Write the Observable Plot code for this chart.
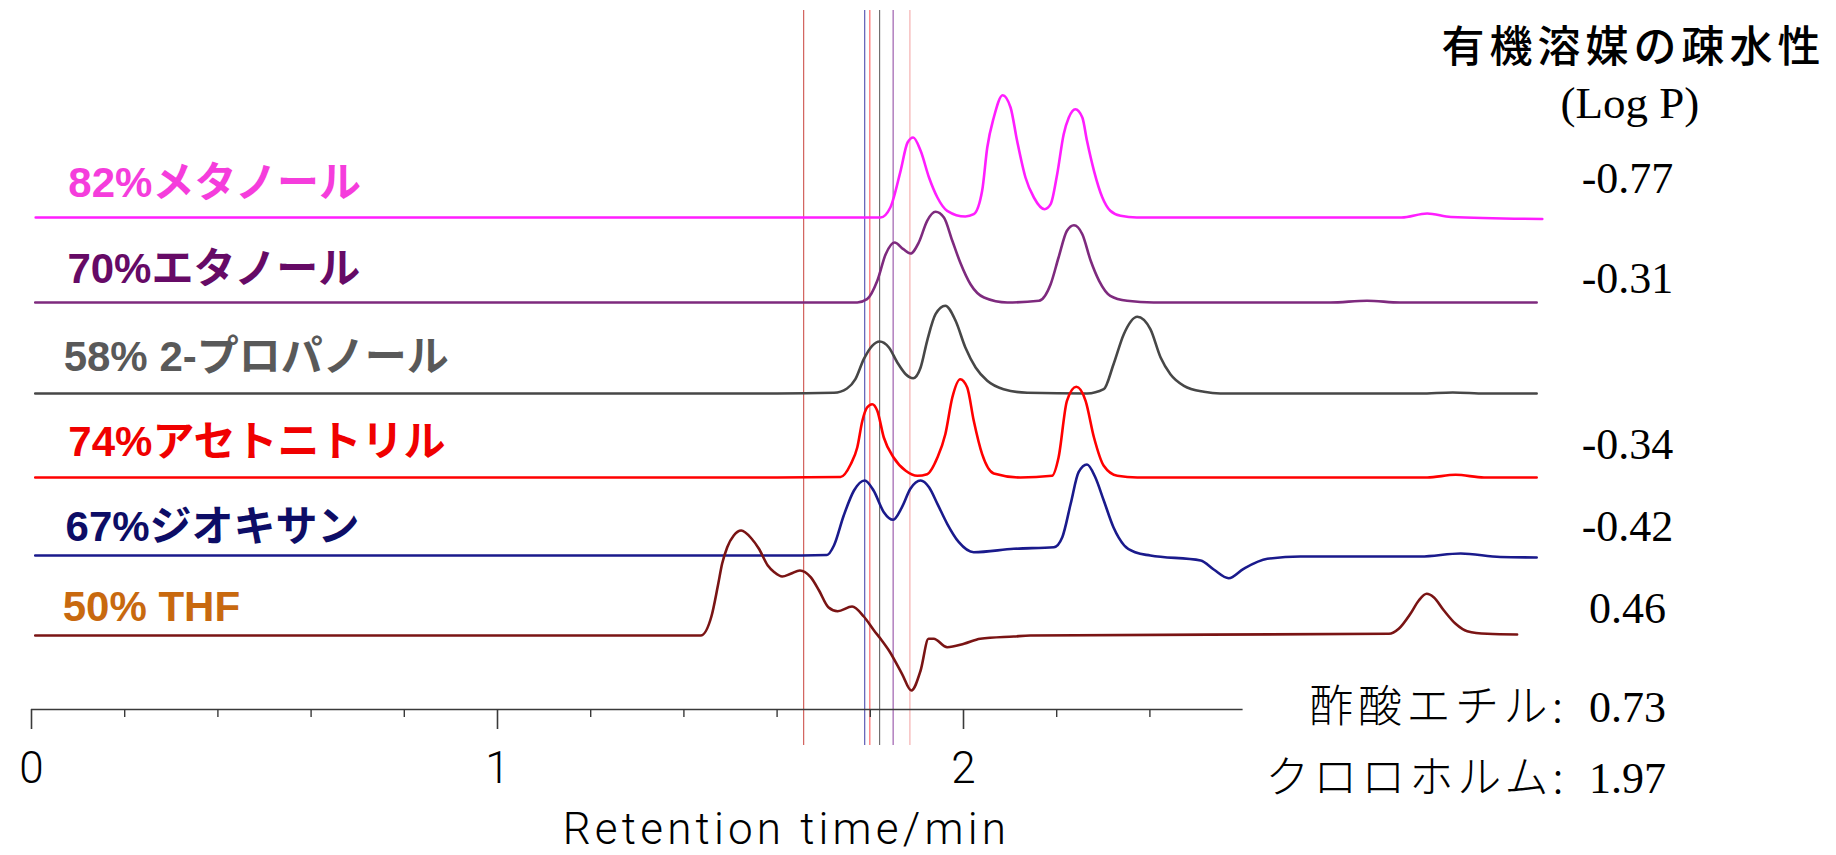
<!DOCTYPE html>
<html>
<head>
<meta charset="utf-8">
<script src="https://cdn.jsdelivr.net/npm/d3@7"></script>
<script src="https://cdn.jsdelivr.net/npm/@observablehq/plot@0.6"></script>
<style>
  html, body { margin: 0; padding: 0; background: #fff; }
  #chart { width: 1836px; height: 855px; overflow: hidden; }
</style>
</head>
<body>
<div id="chart"></div>
<script>
// ---------------- DATA ----------------
const solventLabels = ["82%メタノール", "70%エタノール", "58% 2-プロパノール", "74%アセトニトリル", "67%ジオキサン", "50% THF"];
const logPValues = ["-0.77", "-0.31", null, "-0.34", "-0.42", "0.46"];
const extraSolvents = ["酢酸エチル:", "クロロホルム:"];
const extraLogP = ["0.73", "1.97"];
const titleText = "有機溶媒の疎水性";
const subtitleText = "(Log P)";
const xAxisLabel = "Retention time/min";

// chromatograms: [retention time (min), signal above own baseline (a.u.)]
const methanol = [[0.009,0],[1.60,0],[1.822,0],[1.843,10],[1.865,46.7],[1.880,75],[1.892,80],[1.908,66.7],[1.926,40],[1.944,20],[1.965,6.7],[2.004,1],[2.022,3.3],[2.040,26.7],[2.051,70],[2.065,100],[2.084,122.3],[2.101,110],[2.115,76.7],[2.133,40],[2.151,20],[2.174,8.3],[2.187,13.3],[2.201,43.3],[2.215,83.3],[2.226,100],[2.240,108.3],[2.255,100],[2.265,76.7],[2.280,46.7],[2.298,20],[2.315,6.7],[2.337,1.7],[2.372,0],[2.94,0],[2.995,4],[3.046,0.5],[3.242,-1.5]];
const ethanol = [[0.008,0],[1.60,0],[1.772,0],[1.793,3.3],[1.815,21.7],[1.833,48.3],[1.852,60],[1.871,53.3],[1.886,49],[1.904,60],[1.922,81.7],[1.940,90.7],[1.958,85],[1.976,61.7],[1.993,40],[2.015,18.3],[2.044,5],[2.094,0],[2.162,1.7],[2.187,18.3],[2.204,45],[2.222,71.7],[2.237,77.3],[2.255,68.3],[2.273,41.7],[2.291,21.7],[2.315,6.7],[2.351,1.7],[2.408,0],[2.787,0],[2.866,1.8],[2.937,0],[3.23,0]];
const propanol = [[0.008,0],[1.60,0],[1.722,0.7],[1.750,5],[1.768,14.3],[1.786,34.3],[1.804,47.7],[1.820,52],[1.840,46],[1.858,31],[1.876,19.3],[1.892,15.3],[1.908,26],[1.922,52.7],[1.940,79.3],[1.961,87.7],[1.983,72.7],[2.004,46],[2.026,26],[2.051,12.7],[2.086,4.3],[2.137,0.7],[2.265,0],[2.301,4.3],[2.322,29.3],[2.344,59.3],[2.373,76.7],[2.401,64.3],[2.423,36],[2.444,19.3],[2.473,7.7],[2.516,1.7],[2.551,0],[2.98,0],[3.05,1],[3.12,0],[3.23,0]];
const acetonitrile = [[0.008,0],[1.60,0],[1.736,0.5],[1.758,13.3],[1.772,30],[1.783,56.7],[1.793,70],[1.804,73.3],[1.815,66.7],[1.829,40],[1.850,20],[1.876,6.7],[1.901,1.7],[1.922,3.3],[1.944,20],[1.961,43.3],[1.976,80],[1.993,98.3],[2.008,90],[2.022,56.7],[2.040,23.3],[2.065,4],[2.122,0],[2.190,1.7],[2.204,20],[2.222,76.7],[2.242,90.7],[2.262,76.7],[2.280,40],[2.301,11.7],[2.330,1.7],[2.373,0],[2.995,0],[3.056,2.7],[3.117,0],[3.23,0]];
const dioxane = [[0.008,0],[1.60,0],[1.707,0.5],[1.722,10],[1.743,40],[1.765,65],[1.788,75],[1.807,65],[1.829,43.3],[1.849,35.7],[1.868,48.3],[1.886,66.7],[1.908,75],[1.926,68.3],[1.944,51.7],[1.965,31.7],[1.990,13.3],[2.022,3.3],[2.108,6.7],[2.194,8.3],[2.212,18.3],[2.230,51.7],[2.247,83.3],[2.265,91],[2.283,78],[2.301,55],[2.322,28],[2.345,10],[2.37,3],[2.401,0],[2.509,-5],[2.537,-14],[2.569,-22.7],[2.601,-13.3],[2.652,-3.3],[2.723,-1],[2.981,-1],[3.067,2],[3.152,-1.5],[3.23,-2]];
const thf = [[0.008,0],[1.393,0],[1.436,0],[1.459,19],[1.473,50],[1.482,71.7],[1.493,88.3],[1.507,100],[1.523,105],[1.545,97],[1.561,86.7],[1.580,70],[1.594,63.3],[1.611,59],[1.629,61.7],[1.649,65],[1.672,58.3],[1.690,45],[1.710,28.3],[1.730,24.3],[1.761,29],[1.786,19],[1.808,5],[1.822,-3.3],[1.840,-15],[1.868,-38.3],[1.888,-55],[1.908,-35],[1.925,-3.3],[1.936,-3.3],[1.965,-11.7],[2.001,-8.3],[2.036,-3.3],[2.108,-1],[2.143,0],[2.913,1.7],[2.934,6.7],[2.959,21.7],[2.977,35],[2.994,41.7],[3.009,38.3],[3.031,25],[3.056,11.7],[3.081,4.3],[3.124,1.7],[3.188,1]];
const traces = [methanol, ethanol, propanol, acetonitrile, dioxane, thf];

// void-time markers (min), order: THF, dioxane, acetonitrile, 2-propanol, ethanol, methanol
const voidTimes = [1.657, 1.788, 1.799, 1.820, 1.849, 1.885];

const majorTicks = [0, 1, 2];
const minorTicks = [0.2, 0.4, 0.6, 0.8, 1.2, 1.4, 1.6, 1.8, 2.2, 2.4];
const axisEnd = 2.6;

// ---------------- LAYOUT / STYLE ----------------
const baseOffsets = [492, 407, 316, 232, 154, 74];
const lineColors = ["#ff1eff", "#7e2a7e", "#474747", "#ff0000", "#1a1a8c", "#7a1414"];
const labelColors = ["#f53ddc", "#660a66", "#595959", "#f00000", "#0d0d66", "#c8690f"];
const labelX = [0.079, 0.077, 0.069, 0.079, 0.073, 0.067];
const labelY = [525.5, 440, 351.5, 267, 181.5, 101.5];
const markerColors = ["#c8403a", "#3b3ba6", "#ff4d4d", "#555555", "#8b3f9e", "#f4a0a0"];
const logPY = [530.4, 431, null, 264.5, 183, 101];
const logPX = 3.425;
const extraY = [1.5, -69];
const extraLabelX = 3.296;

const sans = "'Liberation Sans', 'Noto Sans CJK JP', sans-serif";
const serif = "'Liberation Serif', 'DejaVu Serif', serif";
const jp = "'Noto Sans CJK JP', sans-serif";
const axisFont = "Roboto, 'Open Sans', sans-serif";

const marks = [];

// void time rules
voidTimes.forEach((t, i) => {
  marks.push(Plot.ruleX([t], {x: d => d, y1: -36, y2: 699, stroke: markerColors[i], strokeWidth: 1.1, strokeOpacity: 0.9}));
});

// chromatograms
traces.forEach((pts, i) => {
  marks.push(Plot.line(pts, {
    x: d => d[0], y: d => d[1] + baseOffsets[i],
    stroke: lineColors[i], strokeWidth: 2.6, curve: "monotone-x"
  }));
});

// solvent labels
solventLabels.forEach((name, i) => {
  marks.push(Plot.text([name], {
    x: () => labelX[i], y: () => labelY[i], text: d => d,
    textAnchor: "start", fill: labelColors[i], fontSize: 42, fontWeight: "bold", fontFamily: sans
  }));
});

// log P values
logPValues.forEach((v, i) => {
  if (v == null) return;
  marks.push(Plot.text([v], {
    x: () => logPX, y: () => logPY[i], text: d => d,
    textAnchor: "middle", fill: "#000", fontSize: 44, fontFamily: serif
  }));
});
extraSolvents.forEach((name, i) => {
  marks.push(Plot.text([name], {
    x: () => extraLabelX, y: () => extraY[i], text: d => d,
    textAnchor: "end", fill: "#000", fontSize: 44, fontWeight: 300, fontFamily: jp
  }));
  marks.push(Plot.text([extraLogP[i]], {
    x: () => logPX, y: () => extraY[i], text: d => d,
    textAnchor: "middle", fill: "#000", fontSize: 44, fontFamily: serif
  }));
});

// title
marks.push(Plot.text([titleText], {
  x: () => 3.438, y: () => 661, text: d => d,
  textAnchor: "middle", fill: "#000", fontSize: 43, fontWeight: 500, fontFamily: jp
}));
marks.push(Plot.text([subtitleText], {
  x: () => 3.43, y: () => 606, text: d => d,
  textAnchor: "middle", fill: "#000", fontSize: 45, fontFamily: serif
}));

// axis
marks.push(Plot.ruleY([0], {x1: 0, x2: axisEnd, stroke: "#3a3a3a", strokeWidth: 1.6}));
marks.push(Plot.ruleX(majorTicks, {x: d => d, y1: 0, y2: -20, stroke: "#3a3a3a", strokeWidth: 1.6}));
marks.push(Plot.ruleX(minorTicks, {x: d => d, y1: 0, y2: -8, stroke: "#3a3a3a", strokeWidth: 1.4}));
marks.push(Plot.text(majorTicks, {
  x: d => d, y: () => -59, text: d => String(d),
  textAnchor: "middle", fill: "#000", fontSize: 44, fontWeight: 300, fontFamily: axisFont
}));
marks.push(Plot.text([xAxisLabel], {
  x: () => 1.62, y: () => -120, text: d => d,
  textAnchor: "middle", fill: "#000", fontSize: 44, fontWeight: 300, fontFamily: axisFont
}));

const chart = Plot.plot({
  width: 1836,
  height: 855,
  marginLeft: 31,
  marginRight: 0,
  marginTop: 0,
  marginBottom: 0,
  x: {domain: [0, 1805 / 466], axis: null},
  y: {domain: [-146, 709], axis: null},
  style: {background: "#fff", overflow: "visible"},
  marks
});

// letter spacing tweaks
const spacing = new Map([
  [xAxisLabel, "4.2px"],
  [titleText, "5px"],
  [extraSolvents[0], "4.5px"],
  [extraSolvents[1], "4px"]
]);
d3.select(chart).selectAll("text").each(function () {
  const s = spacing.get(this.textContent);
  if (s) this.setAttribute("letter-spacing", s);
});

document.getElementById("chart").appendChild(chart);
</script>
</body>
</html>
